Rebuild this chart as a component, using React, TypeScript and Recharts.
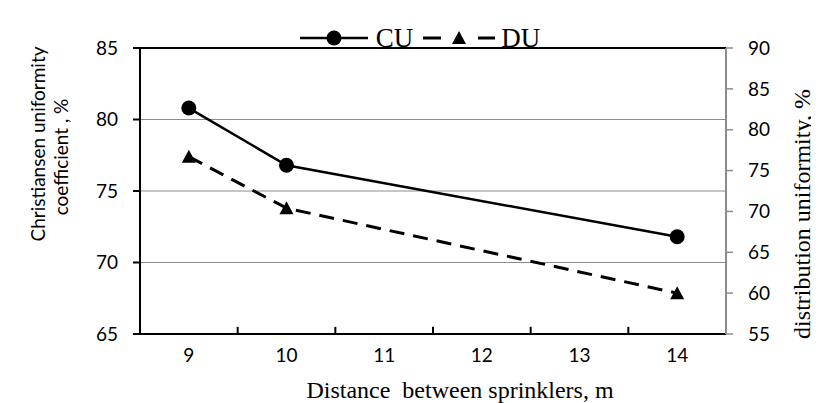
import React from 'react';
import { LineChart, Line, XAxis, YAxis, CartesianGrid, ReferenceLine, Legend } from 'recharts';

const distances = [9, 10, 14];
const cuValues = [80.8, 76.8, 71.8];
const duValues = [76.7, 70.4, 60.0];
const xTicks = [9, 10, 11, 12, 13, 14];
const xTickMarks = [9.5, 10.5, 11.5, 12.5, 13.5];
const leftTicks = [65, 70, 75, 80, 85];
const rightTicks = [55, 60, 65, 70, 75, 80, 85, 90];

const data = distances.map((x, i) => ({ x, CU: cuValues[i], DU: duValues[i] }));

const SANS = 'Lato, "Open Sans", sans-serif';
const SERIF = '"Liberation Serif", "DejaVu Serif", serif';

const Triangle = (props: any) => {
  const { cx, cy } = props;
  if (cx == null || cy == null) return null;
  return <path d={`M${cx},${cy - 7} L${cx + 7},${cy + 6} L${cx - 7},${cy + 6} Z`} fill="#000" />;
};

const renderLegend = () => (
  <div style={{ display: 'flex', justifyContent: 'center', alignItems: 'center', paddingLeft: 13, fontFamily: SERIF, fontSize: 27, lineHeight: '28px', color: '#000' }}>
    <svg width={68} height={20}>
      <line x1={0} y1={10} x2={68} y2={10} stroke="#000" strokeWidth={2.5} />
      <circle cx={34} cy={10} r={7.5} fill="#000" />
    </svg>
    <span style={{ marginLeft: 8, marginRight: 10 }}>CU</span>
    <svg width={72} height={20}>
      <line x1={0} y1={10} x2={18} y2={10} stroke="#000" strokeWidth={3} />
      <path d="M36,3 L43,16 L29,16 Z" fill="#000" />
      <line x1={55} y1={10} x2={72} y2={10} stroke="#000" strokeWidth={3} />
    </svg>
    <span style={{ marginLeft: 6 }}>DU</span>
  </div>
);

const LeftTitle = () => (
  <g>
    <text transform="translate(29,136) rotate(-90)" textAnchor="middle" dominantBaseline="central" fontFamily={SANS} fontSize={19} fill="#000">
      Christiansen uniformity
    </text>
    <text transform="translate(52,149) rotate(-90)" textAnchor="middle" dominantBaseline="central" fontFamily={SANS} fontSize={19} fill="#000">
      coefficient , %
    </text>
  </g>
);

const RightTitle = () => (
  <text transform="translate(794,206) rotate(-90)" textAnchor="middle" dominantBaseline="central" fontFamily={SERIF} fontSize={24} fill="#000">
    distribution uniformity, %
  </text>
);

const BottomTitle = () => (
  <text x={452} y={390} textAnchor="middle" fontFamily={SERIF} fontSize={24} fill="#000">
    Distance&#160; between sprinklers, m
  </text>
);

export default function App() {
  return (
    <div style={{ marginLeft: -1, marginTop: -1, width: 811, height: 396, borderLeft: '1px solid #a0a0a0', borderTop: '1px solid #a0a0a0' }}>
      <LineChart width={811} height={395} data={data} margin={{ top: 40, right: 0, left: 0, bottom: 0 }}>
        <CartesianGrid yAxisId="left" vertical={false} stroke="#8c8c8c" strokeWidth={1} />
        <XAxis
          dataKey="x"
          type="number"
          domain={[8.5, 14.5]}
          ticks={xTicks}
          height={69}
          tickLine={false}
          tickSize={0}
          tickMargin={15}
          axisLine={{ stroke: '#000', strokeWidth: 2 }}
          tick={{ fontFamily: SANS, fontSize: 19, fill: '#000' }}
          label={<BottomTitle />}
        />
        <YAxis
          yAxisId="left"
          domain={[65, 85]}
          ticks={leftTicks}
          width={132}
          tickSize={7}
          tickMargin={15}
          axisLine={{ stroke: '#000', strokeWidth: 2 }}
          tickLine={{ stroke: '#000', strokeWidth: 2 }}
          tick={{ fontFamily: SANS, fontSize: 19, fill: '#000' }}
          label={<LeftTitle />}
        />
        <YAxis
          yAxisId="right"
          orientation="right"
          domain={[55, 90]}
          ticks={rightTicks}
          width={93}
          tickSize={7}
          tickMargin={15}
          axisLine={{ stroke: '#8c8c8c', strokeWidth: 2 }}
          tickLine={{ stroke: '#8c8c8c', strokeWidth: 1.5 }}
          tick={{ fontFamily: SANS, fontSize: 19, fill: '#000', textAnchor: 'start' }}
          label={<RightTitle />}
        />
        <ReferenceLine yAxisId="left" y={85} stroke="#000" strokeWidth={2} />
        {xTickMarks.map((t) => (
          <ReferenceLine
            key={t}
            yAxisId="left"
            segment={[{ x: t, y: 65 }, { x: t, y: 65.5 }]}
            stroke="#000"
            strokeWidth={2}
          />
        ))}
        <Line
          yAxisId="left"
          dataKey="CU"
          type="linear"
          stroke="#000"
          strokeWidth={2.5}
          dot={{ r: 7.5, fill: '#000', stroke: '#000', strokeWidth: 0 }}
          isAnimationActive={false}
        />
        <Line
          yAxisId="right"
          dataKey="DU"
          type="linear"
          stroke="#000"
          strokeWidth={3}
          strokeDasharray="15 9"
          dot={<Triangle />}
          isAnimationActive={false}
        />
        <Legend
          layout="horizontal"
          verticalAlign="middle"
          align="center"
          content={renderLegend}
          wrapperStyle={{ left: 0, top: 16, width: 811 }}
        />
      </LineChart>
    </div>
  );
}
